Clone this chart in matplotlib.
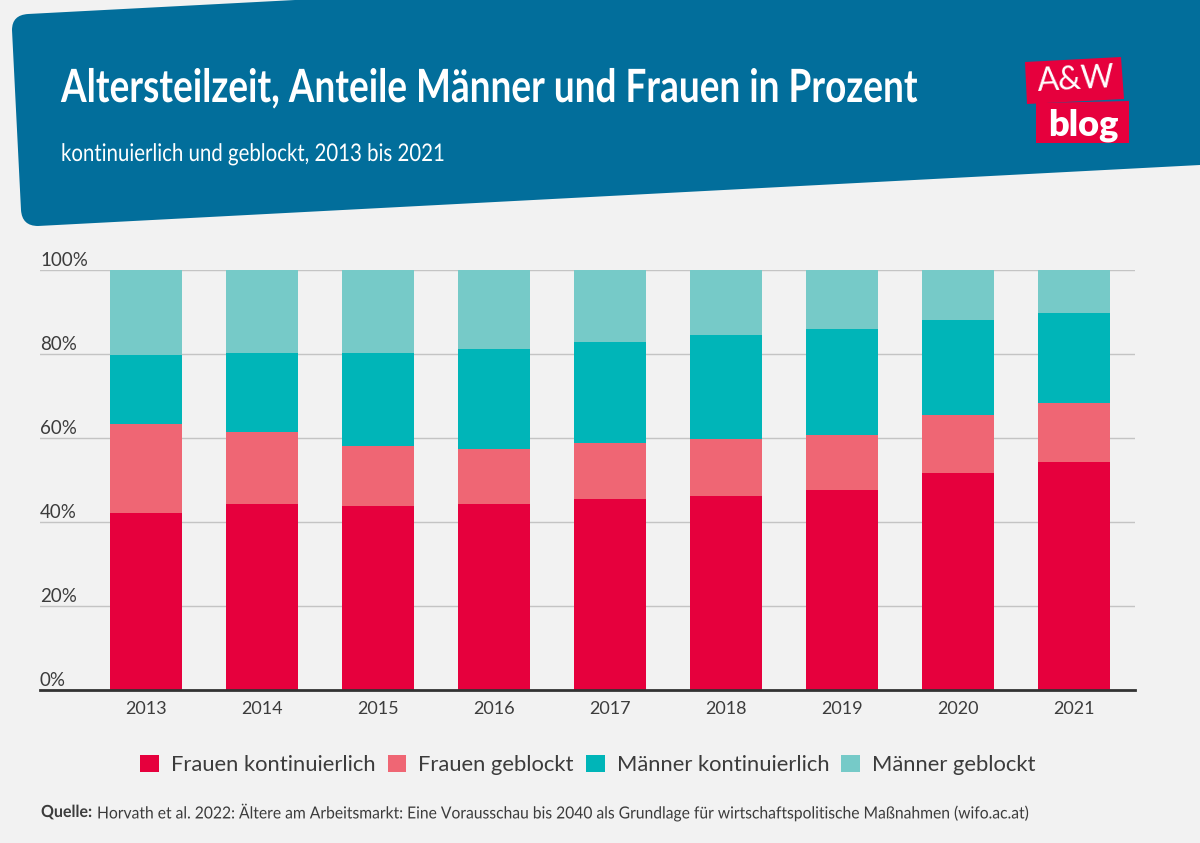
#!/usr/bin/env python3
"""
Altersteilzeit stacked bars, A&W blog style
"""

import matplotlib
matplotlib.use('Agg')
import matplotlib.pyplot as plt
import matplotlib.patches as patches
import matplotlib.patheffects as pe
from matplotlib.path import Path
from matplotlib.transforms import Affine2D
import numpy as np

years = ['2013', '2014', '2015', '2016', '2017', '2018', '2019', '2020', '2021']
frauen_kont = [42.1, 44.3, 43.8, 44.3, 45.5, 46.2, 47.6, 51.7, 54.3]
frauen_geb = [21.2, 17.1, 14.3, 13.1, 13.3, 13.6, 13.1, 13.8, 14.0]
maenner_kont = [16.5, 18.8, 22.1, 23.8, 24.1, 24.7, 25.3, 22.6, 21.5]
maenner_geb = [20.2, 19.8, 19.8, 18.8, 17.1, 15.5, 14.0, 11.9, 10.2]
series_names = ['Frauen kontinuierlich', 'Frauen geblockt', 'Männer kontinuierlich', 'Männer geblockt']
yticks = [0, 20, 40, 60, 80, 100]

BG = '#F2F2F2'
BLUE = '#026E9B'
RED = '#E6003D'
colors = [RED, '#EF6674', '#00B5B8', '#76CAC8']
TEXT = '#3C3C3C'
BODY = ['Lato', 'DejaVu Sans']


class Condensed(pe.AbstractPathEffect):
    """Squeeze glyphs horizontally, no narrow font is installed"""
    def __init__(self, sx):
        super().__init__()
        self.sx = sx

    def draw_path(self, renderer, gc, tpath, affine, rgbFace=None):
        renderer.draw_path(gc, tpath, Affine2D().scale(self.sx, 1) + affine, rgbFace)


W, H = 1200, 843
fig = plt.figure(figsize=(12, 8.43), dpi=100, facecolor=BG)

# overlay in pixel coordinates for the banner and the logo
bg = fig.add_axes([0, 0, 1, 1], zorder=0)
bg.set_xlim(0, W)
bg.set_ylim(H, 0)
bg.axis('off')

verts = [(28, 14), (12, 15), (12, 30), (21, 210), (22, 226), (38, 226),
         (1200, 165), (1200, -5), (295, -5), (295, 0), (28, 14)]
codes = [Path.MOVETO, Path.CURVE3, Path.CURVE3, Path.LINETO, Path.CURVE3, Path.CURVE3,
         Path.LINETO, Path.LINETO, Path.LINETO, Path.LINETO, Path.CLOSEPOLY]
bg.add_patch(patches.PathPatch(Path(verts, codes), facecolor=BLUE, edgecolor='none'))

bg.add_patch(patches.Polygon([(1025, 62), (1121, 57), (1124, 99), (1027, 104)], facecolor=RED, edgecolor='none'))
bg.add_patch(patches.Polygon([(1036, 103), (1129, 101), (1129, 143), (1036, 143)], facecolor=RED, edgecolor='none'))
bg.text(1076, 80, 'A&W', color='white', fontsize=23, ha='center', va='center', rotation=3,
        family=BODY)
bg.text(1083, 125, 'blog', color='white', fontsize=26, fontweight='heavy', ha='center', va='center',
        family=BODY)

bg.text(61, 102, 'Altersteilzeit, Anteile Männer und Frauen in Prozent', color='white',
        fontsize=33, fontweight='bold', ha='left', va='baseline', family=BODY,
        path_effects=[Condensed(0.806)])
bg.text(61, 161, 'kontinuierlich und geblockt, 2013 bis 2021', color='white',
        fontsize=17.5, ha='left', va='baseline', family=BODY,
        path_effects=[Condensed(0.84)])
bg.text(41, 812, 'Quelle:', color=TEXT, fontsize=12, fontweight='bold', ha='left', va='center', family=BODY,
        path_effects=[Condensed(0.96)])
bg.text(97, 812, 'Horvath et al. 2022: Ältere am Arbeitsmarkt: Eine Vorausschau bis 2040 als Grundlage für wirtschaftspolitische Maßnahmen (wifo.ac.at)',
        color=TEXT, fontsize=12, ha='left', va='center', family=BODY, path_effects=[Condensed(0.939)])

# chart axes, 100% at y=270px, 0% at y=690px, x from 40 to 1135px
ax = fig.add_axes([40 / W, 1 - 690 / H, 1095 / W, 420 / H], zorder=1)
ax.patch.set_alpha(0)
x = np.arange(len(years))
bottom = np.zeros(len(years))
handles = []
for vals, col, name in zip([frauen_kont, frauen_geb, maenner_kont, maenner_geb], colors, series_names):
    b = ax.bar(x, vals, width=0.62, bottom=bottom, color=col, label=name, zorder=2)
    handles.append(b)
    bottom += np.array(vals)

ax.set_xlim(-0.914, 8.526)
ax.set_ylim(0, 100)
ax.set_xticks(x)
ax.set_xticklabels(years, fontsize=13, color=TEXT, family=BODY)
ax.tick_params(axis='x', length=0, pad=8)
ax.set_yticks(yticks)
ax.set_yticklabels([])
ax.tick_params(axis='y', length=0)
ax.grid(axis='y', color='#C4C4C4', linewidth=1, zorder=1)
ax.set_axisbelow(True)
for s in ['top', 'left', 'right']:
    ax.spines[s].set_visible(False)
ax.spines['bottom'].set_color('#333333')
ax.spines['bottom'].set_linewidth(2)

# y labels sit on top of the grid lines
for t in yticks:
    ax.annotate(f'{t}%', xy=(0, t), xycoords=('axes fraction', 'data'), xytext=(0, 1),
                textcoords='offset points', ha='left', va='bottom', fontsize=13.5, color=TEXT, family=BODY)

fig.legend(handles=handles, loc='center', bbox_to_anchor=(588 / W, 1 - 765 / H), ncol=4, frameon=False,
           prop={'family': BODY, 'size': 15.8}, labelcolor=TEXT, handlelength=0.85, handleheight=0.85,
           handletextpad=0.55, columnspacing=0.55, borderpad=0, borderaxespad=0)

fig.savefig('out.png', dpi=100, facecolor=BG)
